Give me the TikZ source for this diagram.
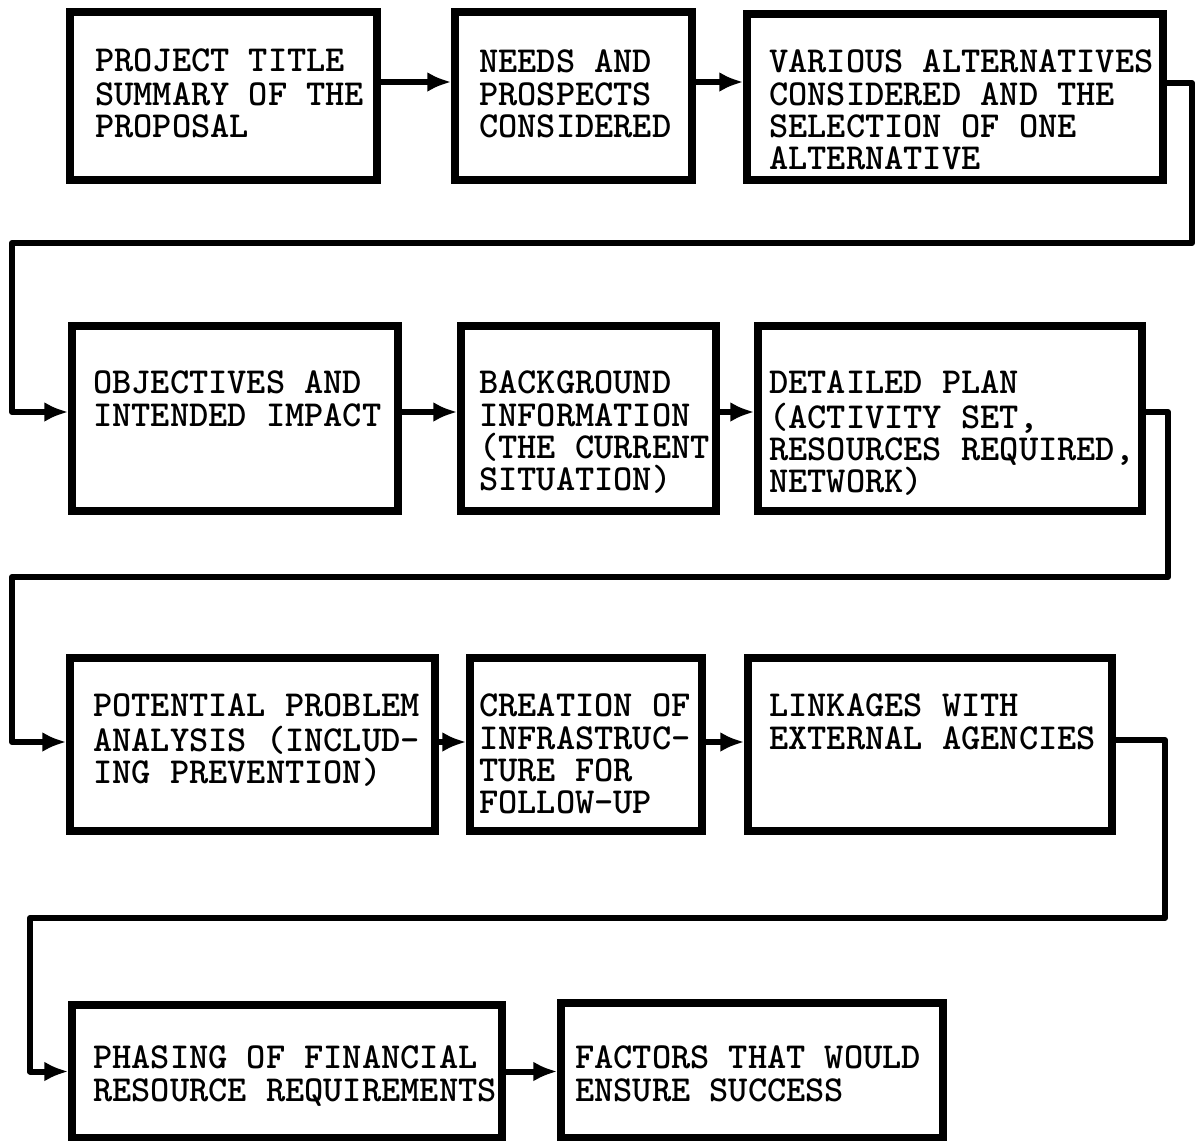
\documentclass[tikz,border=0pt]{standalone}
\usetikzlibrary{arrows.meta,calc}
\begin{document}
\begin{tikzpicture}[x=1pt,y=-1pt,
  bx/.style={draw, line width=7.5pt, rectangle, inner sep=0pt, fill=none},
  txt/.style={font=\ttfamily\bfseries\fontsize{36.6}{32}\selectfont, align=left, anchor=north west, inner sep=0pt},
  conn/.style={line width=6pt, -{Latex[length=24pt,width=20pt]}}
]
\useasboundingbox (0,0) rectangle (1195,1141);
% row 1
\node[bx, minimum width=307pt, minimum height=168pt] (A) at (223.5,96) {};
\node[bx, minimum width=237pt, minimum height=168pt] (B) at (573.5,96) {};
\node[bx, minimum width=416pt, minimum height=166pt] (C) at (955,97) {};
\node[txt] (At) at (95,49) {\strut PROJECT TITLE\\SUMMARY OF THE\\PROPOSAL};
\node[txt] (Bt) at (479,49) {\strut NEEDS AND\\PROSPECTS\\CONSIDERED};
\node[txt] (Ct) at (769,49) {\strut VARIOUS ALTERNATIVES\\CONSIDERED AND THE\\SELECTION OF ONE\\ALTERNATIVE};
% row 2
\node[bx, minimum width=326pt, minimum height=185pt] (D) at (235,418.5) {};
\node[bx, minimum width=255pt, minimum height=185pt] (E) at (588.5,418.5) {};
\node[bx, minimum width=384pt, minimum height=185pt] (F) at (950,418.5) {};
\node[txt] (Dt) at (93,370) {\strut OBJECTIVES AND\\INTENDED IMPACT};
\node[txt] (Et) at (479,370) {\strut BACKGROUND\\INFORMATION\\(THE CURRENT\\SITUATION)};
\node[txt] (Ft) at (769,370) {\strut DETAILED PLAN\\(ACTIVITY SET,\\RESOURCES REQUIRED,\\NETWORK)};
% row 3
\node[bx, minimum width=365pt, minimum height=173pt] (G) at (252.5,744.5) {};
\node[bx, minimum width=232pt, minimum height=173pt] (H) at (586,744.5) {};
\node[bx, minimum width=364pt, minimum height=173pt] (I) at (930,744.5) {};
\node[txt] (Gt) at (93,693) {\strut POTENTIAL PROBLEM\\ANALYSIS (INCLUD-\\ING PREVENTION)};
\node[txt] (Ht) at (479,693) {\strut CREATION OF\\INFRASTRUC-\\TURE FOR\\FOLLOW-UP};
\node[txt] (It) at (769,693) {\strut LINKAGES WITH\\EXTERNAL AGENCIES};
% row 4
\node[bx, minimum width=430pt, minimum height=133pt] (J) at (287,1071.5) {};
\node[bx, minimum width=382pt, minimum height=135pt] (K) at (752,1070.5) {};
\node[txt] (Jt) at (93,1045) {\strut PHASING OF FINANCIAL\\RESOURCE REQUIREMENTS};
\node[txt] (Kt) at (575,1045) {\strut FACTORS THAT WOULD\\ENSURE SUCCESS};
% loop corner coordinates
\coordinate (r1) at (1192,243);
\coordinate (l1) at (12,243);
\coordinate (r2) at (1168,577);
\coordinate (l2) at (12,577);
\coordinate (r3) at (1165,918);
\coordinate (l3) at (30,918);
% connectors row 1
\draw[conn] ([yshift=14pt]A.east) -- ([yshift=14pt]A.east -| B.west);
\draw[conn] ([yshift=14pt]B.east) -- ([yshift=14pt]B.east -| C.west);
\draw[conn, line join=round] ([yshift=14pt]C.east) -| (r1) -- (l1) |- ([yshift=6.5pt]D.west);
% row 2
\draw[conn] ([yshift=6.5pt]D.east) -- ([yshift=6.5pt]D.east -| E.west);
\draw[conn] ([yshift=6.5pt]E.east) -- ([yshift=6.5pt]E.east -| F.west);
\draw[conn, line join=round] ([yshift=6.5pt]F.east) -| (r2) -- (l2) |- ([yshift=2.5pt]G.west);
% row 3
\draw[conn] ([yshift=2.5pt]G.east) -- ([yshift=2.5pt]G.east -| H.west);
\draw[conn] ([yshift=2.5pt]H.east) -- ([yshift=2.5pt]H.east -| I.west);
\draw[conn, line join=round] ([yshift=4.5pt]I.east) -| (r3) -- (l3) |- (J.west);
% row 4
\draw[conn] (J.east) -- (J.east -| K.west);
\end{tikzpicture}
\end{document}
